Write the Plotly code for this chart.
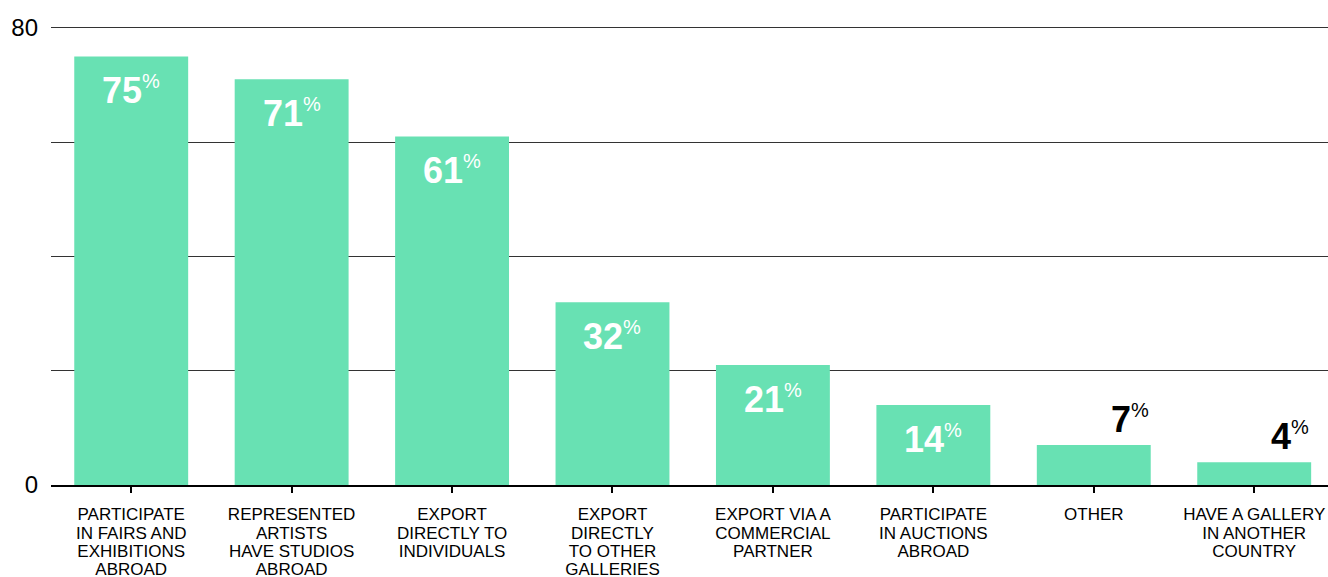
import plotly.graph_objects as go

categories = [
    ["PARTICIPATE", "IN FAIRS AND", "EXHIBITIONS", "ABROAD"],
    ["REPRESENTED", "ARTISTS", "HAVE STUDIOS", "ABROAD"],
    ["EXPORT", "DIRECTLY TO", "INDIVIDUALS"],
    ["EXPORT", "DIRECTLY", "TO OTHER", "GALLERIES"],
    ["EXPORT VIA A", "COMMERCIAL", "PARTNER"],
    ["PARTICIPATE", "IN AUCTIONS", "ABROAD"],
    ["OTHER"],
    ["HAVE A GALLERY", "IN ANOTHER", "COUNTRY"],
]
values = [75, 71, 61, 32, 21, 14, 7, 4]
y_tick_vals = [0, 20, 40, 60, 80]
y_tick_text = ["0", "", "", "", "80"]

BAR_COLOR = "#68e1b3"
FONT = "Liberation Sans, Arial, Helvetica, sans-serif"

# category labels: glyphs at 17px on a tighter 14.2px line pitch
tick_text = [
    "<br>".join(f"<span style='font-size:17px'>{line}</span>" for line in lines)
    for lines in categories
]

fig = go.Figure()
fig.add_trace(go.Bar(
    x=list(range(len(values))),
    y=values,
    marker=dict(color=BAR_COLOR, line=dict(width=0)),
    hoverinfo="skip",
))

# value labels: white inside tall bars, black above the short ones
for i, v in enumerate(values):
    inside = v >= 10
    txt = f"<b>{v}</b><sup><span style='font-size:20px'>%</span></sup>"
    fig.add_annotation(
        x=i, y=v, text=txt, showarrow=False,
        xanchor="center", yanchor="middle",
        yshift=-34 if inside else 26,
        xshift=0 if inside else 36,
        font=dict(family=FONT, size=36, color="white" if inside else "black"),
    )

fig.update_layout(
    width=1328, height=577,
    margin=dict(l=51, r=0, t=25, b=92, autoexpand=False),
    paper_bgcolor="white", plot_bgcolor="white",
    bargap=0.29, showlegend=False,
    font=dict(family=FONT, color="black"),
)
fig.update_xaxes(
    range=[-0.5, 7.46],
    automargin=False,
    tickmode="array",
    tickvals=list(range(len(values))),
    ticktext=tick_text,
    tickson="boundaries",
    ticks="outside", ticklen=6, tickwidth=2, tickcolor="black",
    showline=True, linewidth=2, linecolor="black",
    showgrid=False, zeroline=False,
    tickfont=dict(family=FONT, size=14.2, color="black"),
    ticklabelstandoff=10,
)
fig.update_yaxes(
    range=[0, 80.5],
    automargin=False,
    tickmode="array",
    tickvals=y_tick_vals,
    ticktext=y_tick_text,
    showgrid=True, gridcolor="#333333", gridwidth=1,
    zeroline=False, showline=False, ticks="",
    tickfont=dict(family=FONT, size=24, color="black"),
    ticklabelstandoff=12,
)

fig.write_html("out.html")
